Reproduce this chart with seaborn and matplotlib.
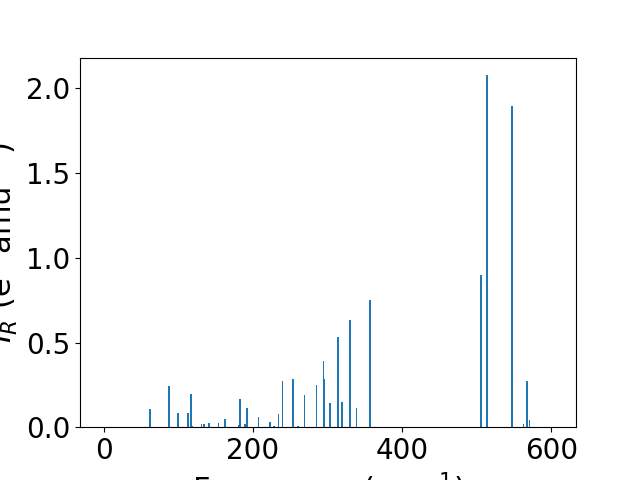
import numpy as np
import seaborn as sns
import matplotlib
matplotlib.use("Agg")
import matplotlib.pyplot as plt

# IR spectrum: frequencies (cm^-1) and intensities
freqs = [61.7, 87.2, 99.3, 113.1, 117.1, 119.0, 131.1, 134.5, 140.8, 153.6,
         162.3, 181.1, 182.8, 189.1, 191.8, 207.0, 222.7, 228.0, 233.8, 239.2,
         253.3, 260.6, 269.2, 284.8, 294.2, 295.1, 303.2, 313.9, 319.3, 330.0,
         338.4, 356.8, 505.7, 513.7, 547.3, 562.4, 567.4, 570.5]
intensities = [0.106, 0.241, 0.082, 0.082, 0.194, 0.006, 0.018, 0.018, 0.024, 0.024,
               0.047, 0.012, 0.165, 0.018, 0.112, 0.059, 0.029, 0.006, 0.076, 0.270,
               0.282, 0.008, 0.188, 0.247, 0.388, 0.282, 0.141, 0.535, 0.147, 0.635,
               0.112, 0.753, 0.900, 2.078, 1.897, 0.018, 0.271, 0.041]

blue = sns.color_palette("tab10")[0]

fig, ax = plt.subplots(figsize=(6.4, 4.8), dpi=100)
ax.bar(freqs, intensities, width=2.0, color=blue)

ax.set_xlim(-32, 633)
ax.set_xticks([0, 200, 400, 600])
ax.set_yticks([0.0, 0.5, 1.0, 1.5, 2.0])
ax.tick_params(labelsize=20)
ax.set_xlabel(r"Frequency (cm$^{-1}$)", fontsize=22)
ax.set_ylabel(r"$I_R$ (e$^2$ amu$^{-1}$)", fontsize=22)

fig.savefig("out.png", dpi=100)
